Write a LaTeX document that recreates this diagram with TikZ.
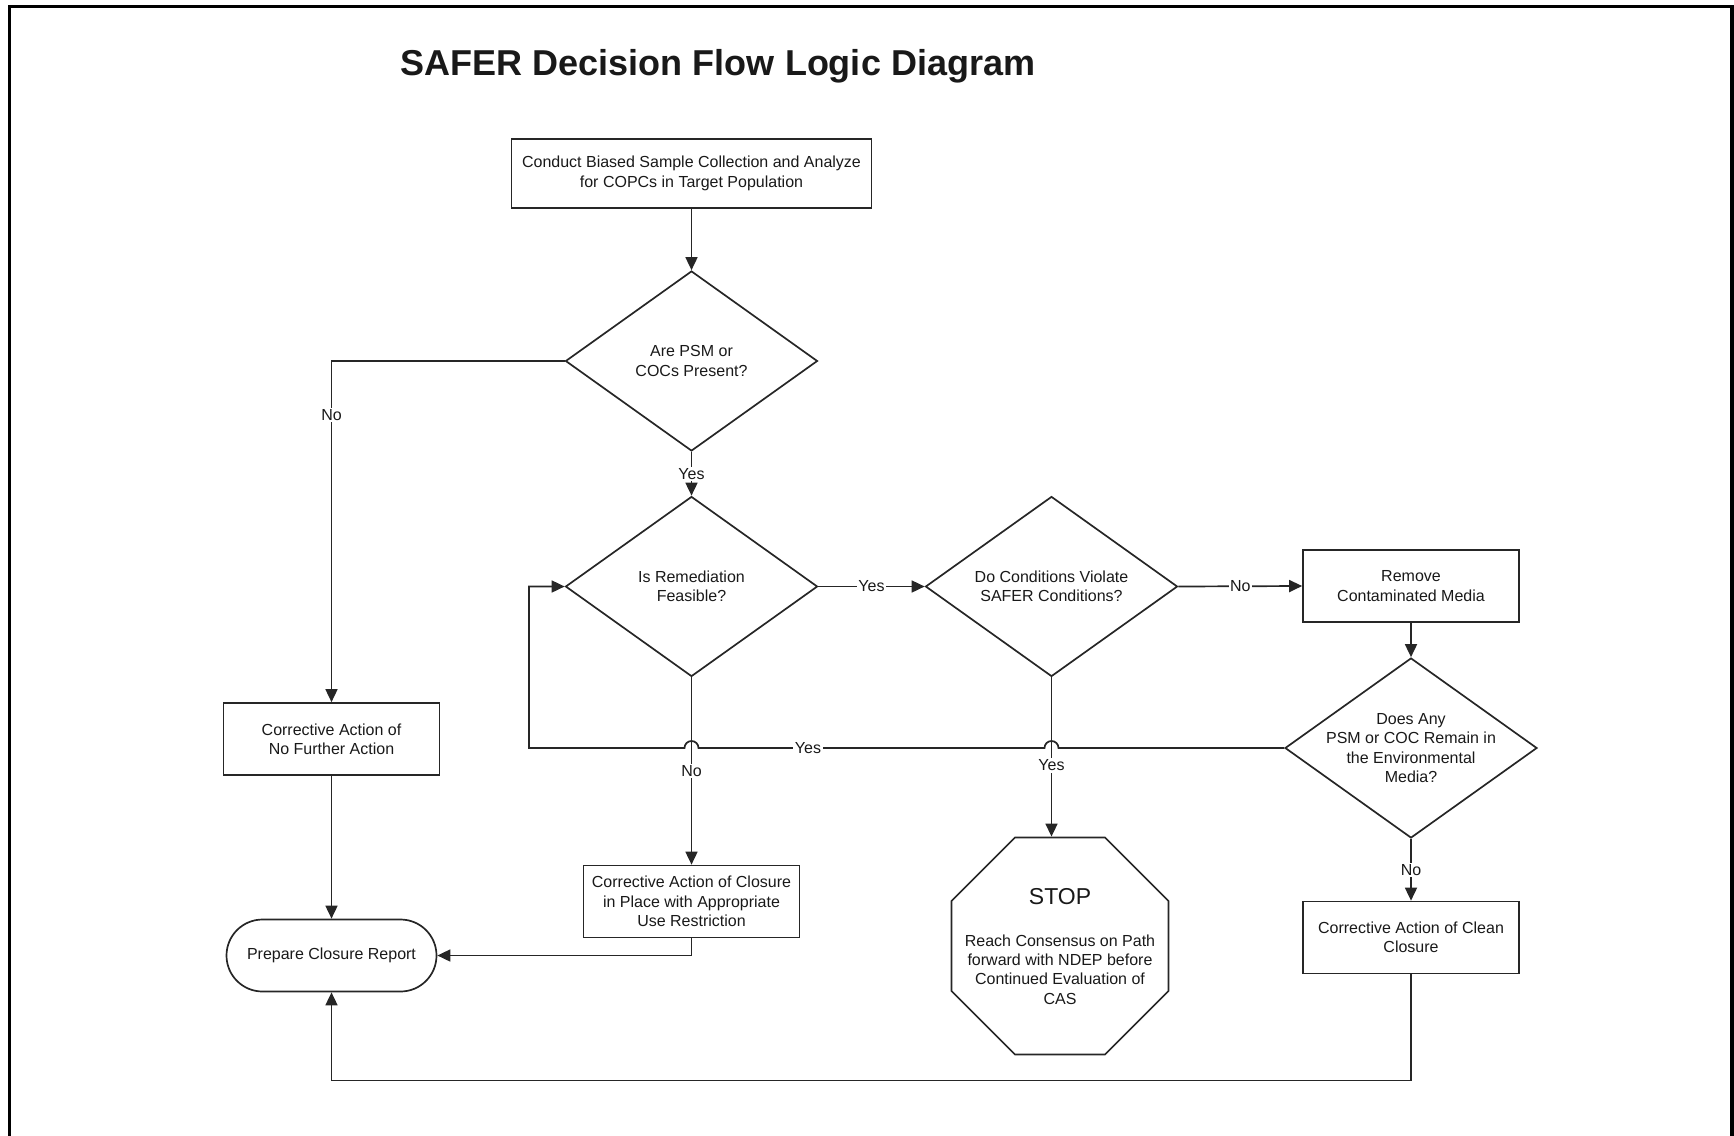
\documentclass[tikz,border=0pt]{standalone}
\usepackage{fontspec}
\setmainfont{Liberation Sans}
\usetikzlibrary{shapes.geometric,shapes.misc,arrows.meta,calc}
\begin{document}
\begin{tikzpicture}[x=1pt,y=-1pt,
  every node/.style={font=\fontsize{16}{19.3}\selectfont, text=black!90},
  box/.style={draw=black!85, rectangle, minimum width=216pt, minimum height=72pt, inner sep=3pt, align=center, line width=1.7pt},
  dia/.style={draw=black!85, diamond, minimum width=252pt, minimum height=180pt, inner sep=0pt, line width=1.7pt},
  txt/.style={align=center, inner sep=0pt},
  conn/.style={line width=1.7pt, draw=black!85, -{Triangle[length=13pt,width=12pt]}},
  lbl/.style={fill=white, inner sep=1.5pt},
  frame/.style={line width=3.5pt, draw=black}
]
\useasboundingbox (0,0) rectangle (1734,1135);
\draw[frame] (9.5,1136) -- (9.5,6.5) -- (1732.2,6.5) -- (1732.2,1136);

\node[font=\fontsize{36}{43}\selectfont\bfseries] (title) at (718,66) {SAFER Decision Flow Logic Diagram};

\node[box, minimum width=360pt, minimum height=69pt] (start) at (691.5,173.5) {Conduct Biased Sample Collection and Analyze\\for COPCs in Target Population};

\node[dia] (d1) at (691.5,361) {};
\node[txt] (d1t) at (d1.center) {Are PSM or\\COCs Present?};
\node[dia] (d2) at (691.5,586.5) {};
\node[txt] (d2t) at (d2.center) {Is Remediation\\Feasible?};
\node[dia] (d3) at (1051.5,586.5) {};
\node[txt] (d3t) at (d3.center) {Do Conditions Violate\\SAFER Conditions?};
\node[box] (remove) at (1411,586) {Remove\\Contaminated Media};
\node[dia] (d4) at (1411,748) {};
\node[txt] (d4t) at (d4.center) {Does Any\\PSM or COC Remain in\\the Environmental\\Media?};

\node[box] (nfa) at (331.5,739) {Corrective Action of\\No Further Action};
\node[box] (cip) at (691.5,901.5) {Corrective Action of Closure\\in Place with Appropriate\\Use Restriction};
\node[box] (clean) at (1411,937.5) {Corrective Action of Clean\\Closure};
\node[draw=black!85, line width=1.7pt, rounded rectangle, minimum width=216pt, minimum height=72pt, inner sep=3pt] (pcr) at (331.5,955.5) {Prepare Closure Report};

\node[draw=black!85, line width=1.7pt, regular polygon, regular polygon sides=8, minimum size=235pt, inner sep=0pt] (stop) at (1060,946) {};
\node[font=\fontsize{23}{27}\selectfont, inner sep=0pt] (stoptitle) at (1060,897) {STOP};
\node[txt] (stoptxt) at (1060,969.6) {Reach Consensus on Path\\forward with NDEP before\\Continued Evaluation of\\CAS};

% connectors
\draw[conn] (start.south) -- (d1.north);
\draw[conn] (d1.west) -| node[lbl,pos=0.579] (lno1) {No} (nfa.north);
\draw[conn] (d1.south) -- node[lbl] (lyes1) {Yes} (d2.north);
\draw[conn] (d2.east) -- node[lbl] (lyes2) {Yes} (d3.west);
\draw[conn] (d3.east) -- node[lbl] (lno2) {No} (remove.west);
\draw[conn] (remove.south) -- (d4.north);
\draw[conn] (d2.south) -- node[lbl] (lno3) {No} (cip.north);
\draw[conn] (d3.south) -- node[lbl,pos=0.554] (lyes3) {Yes} (d3.south |- stop.north);
\draw[conn] (d4.south) -- node[lbl] (lno4) {No} (clean.north);
\draw[conn] (nfa.south) -- (pcr.north);
\draw[conn] (cip.south) |- (pcr.east);
\coordinate (ret) at (1411,1080.5);
\draw[conn] (clean.south) -- (ret) -| (pcr.south);

\coordinate (hopB) at (d3.south |- d4.west);
\coordinate (hopA) at (d2.south |- d4.west);
\coordinate (loopc) at (529,748);
\draw[conn] (d4.west) -- ([xshift=7pt]hopB) arc[start angle=0,end angle=180,radius=7pt]
  -- ([xshift=7pt]hopA) arc[start angle=0,end angle=180,radius=7pt]
  -- (loopc) |- (d2.west);
\node[lbl] (lyes4) at (808,748) {Yes};
\end{tikzpicture}
\end{document}
